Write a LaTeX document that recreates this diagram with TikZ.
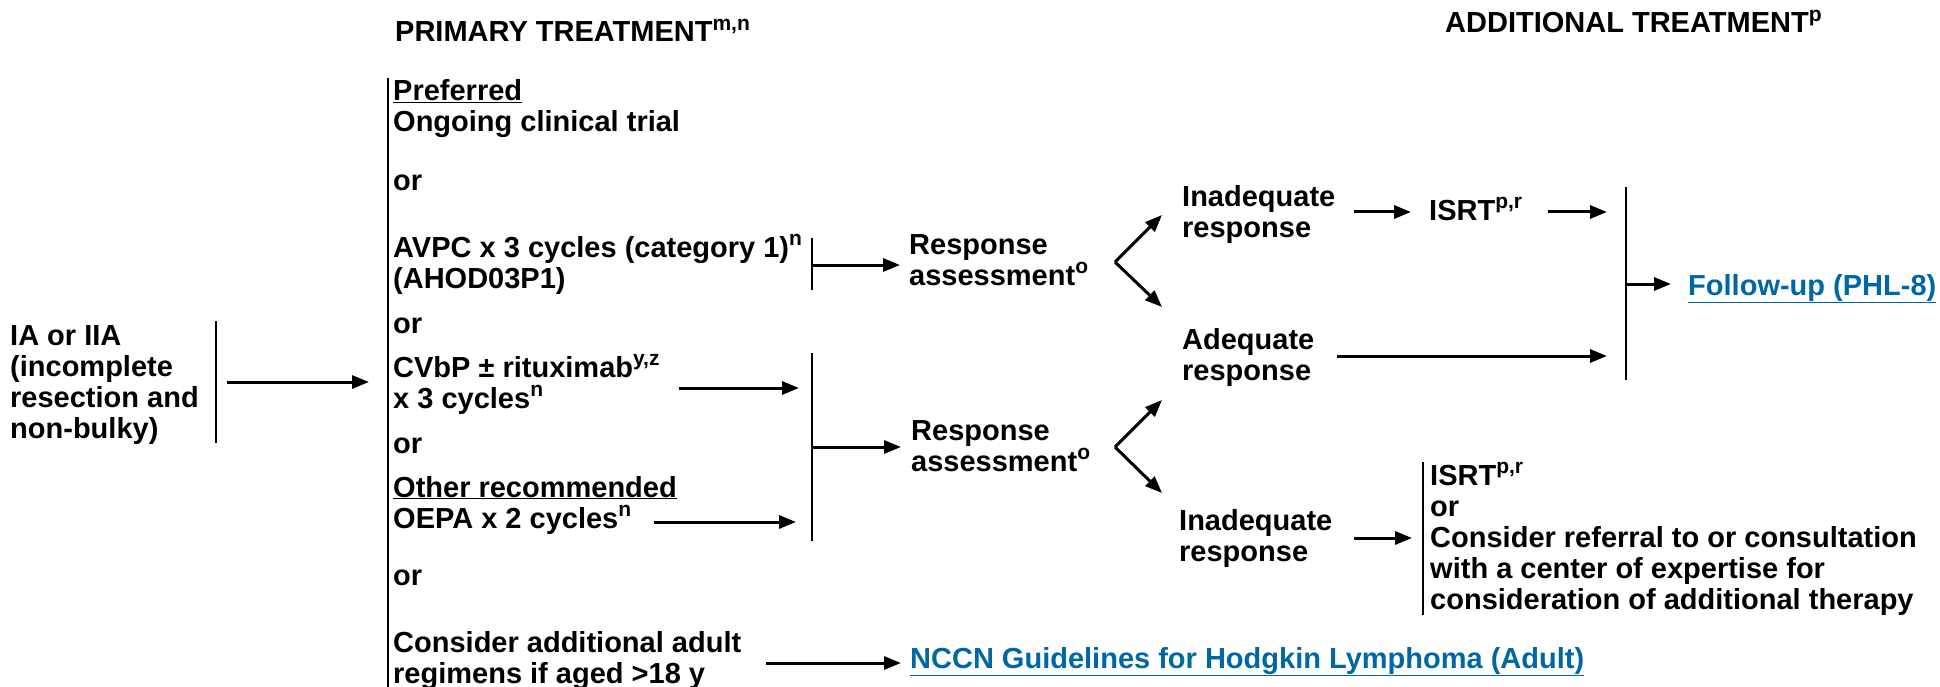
\documentclass[tikz,border=0pt]{standalone}
\usepackage{fontspec}
\setmainfont{Liberation Sans}
\usetikzlibrary{arrows.meta}
\definecolor{linkblue}{RGB}{0,103,165}
\newcommand{\sups}[1]{\raisebox{11.5pt}{\fontsize{21}{21}\selectfont #1}}
\tikzset{
  txt/.style={anchor=base west, inner sep=0pt, align=left, font=\fontsize{29}{31}\selectfont\bfseries},
  link/.style={txt, text=linkblue},
  arr/.style={line width=3pt, -{Triangle[length=17pt,width=13pt]}},
  brk/.style={line width=2pt}
}
\begin{document}
\begin{tikzpicture}[x=1pt,y=-1pt]
\useasboundingbox (0,0) rectangle (1940,687);
% headers (anchors at the baseline of the last line)
\node[txt] (primhead) at (395,42) {PRIMARY TREATMENT\sups{m,n}};
\node[txt] (addhead) at (1445,33) {ADDITIONAL TREATMENT\sups{p}};
% stage
\node[txt] (stage) at (10,438) {IA or IIA\\(incomplete\\resection and\\non-bulky)};
% primary options
\node[txt] (pref) at (393,132) {\underline{Preferred}\\Ongoing clinical trial};
\node[txt] (or1) at (393,190) {or};
\node[txt] (avpc) at (393,288) {AVPC x 3 cycles (category 1)\sups{n}\\(AHOD03P1)};
\node[txt] (or2) at (393,333) {or};
\node[txt] (cvbp) at (393,408) {CVbP ± rituximab\sups{y,z}\\x 3 cycles\sups{n}};
\node[txt] (or3) at (393,453) {or};
\node[txt] (other) at (393,528) {\underline{Other recommended}\\OEPA x 2 cycles\sups{n}};
\node[txt] (or4) at (393,585) {or};
\node[txt] (adult) at (393,683) {Consider additional adult\\regimens if aged >18 y};
% assessments
\node[txt] (resp1) at (909,285) {Response\\assessment\sups{o}};
\node[txt] (resp2) at (911,471) {Response\\assessment\sups{o}};
\node[txt] (inad1) at (1182,237) {Inadequate\\response};
\node[txt] (isrt1) at (1429,220) {ISRT\sups{p,r}};
\node[txt] (adeq) at (1182,380) {Adequate\\response};
\node[txt] (inad2) at (1179,561) {Inadequate\\response};
\node[txt] (isrt2) at (1430,609) {ISRT\sups{p,r}\\or\\Consider referral to or consultation\\with a center of expertise for\\consideration of additional therapy};
\node[link] (follow) at (1688,295) {\underline{Follow-up (PHL-8)}};
\node[link] (nccn) at (910,668) {\underline{NCCN Guidelines for Hodgkin Lymphoma (Adult)}};
% coordinates
\coordinate (sbT) at (216,321); \coordinate (sbB) at (216,443);
\coordinate (sbA) at (227,382); \coordinate (prA) at (369,382);
\coordinate (prT) at (388,78); \coordinate (prB) at (388,687);
\coordinate (avT) at (812,238); \coordinate (avB) at (812,290); \coordinate (avM) at (812,265);
\coordinate (r1in) at (900,265);
\coordinate (cvS) at (679,388); \coordinate (cvE) at (799,388);
\coordinate (oeS) at (654,522); \coordinate (oeE) at (796,522);
\coordinate (b2T) at (812,353); \coordinate (b2B) at (812,541); \coordinate (b2M) at (812,447);
\coordinate (r2in) at (901,447);
\coordinate (adS) at (766,663); \coordinate (adE) at (901,663);
\coordinate (v1) at (1115,262); \coordinate (v1u) at (1162,215); \coordinate (v1d) at (1162,307);
\coordinate (v2) at (1115,447); \coordinate (v2u) at (1162,400); \coordinate (v2d) at (1162,493);
\coordinate (i1S) at (1354,212); \coordinate (i1E) at (1411,212);
\coordinate (isS) at (1548,212); \coordinate (isE) at (1607,212);
\coordinate (aqS) at (1337,356); \coordinate (aqE) at (1607,356);
\coordinate (fbT) at (1626,187); \coordinate (fbB) at (1626,380); \coordinate (fbM) at (1626,284);
\coordinate (fuE) at (1671,284);
\coordinate (i2S) at (1354,538); \coordinate (i2E) at (1412,538);
\coordinate (ibT) at (1423,462); \coordinate (ibB) at (1423,615);
% brackets
\draw[brk] (sbT) -- (sbB);
\draw[brk] (prT) -- (prB);
\draw[brk] (avT) -- (avB);
\draw[brk] (b2T) -- (b2B);
\draw[brk] (fbT) -- (fbB);
\draw[brk] (ibT) -- (ibB);
% arrows
\draw[arr] (sbA) -- (prA);
\draw[arr] (avM) -- (r1in);
\draw[arr] (cvS) -- (cvE);
\draw[arr] (oeS) -- (oeE);
\draw[arr] (b2M) -- (r2in);
\draw[arr] (adS) -- (adE);
\draw[arr] (v1) -- (v1u);
\draw[arr] (v1) -- (v1d);
\draw[arr] (v2) -- (v2u);
\draw[arr] (v2) -- (v2d);
\draw[arr] (i1S) -- (i1E);
\draw[arr] (isS) -- (isE);
\draw[arr] (aqS) -- (aqE);
\draw[arr] (fbM) -- (fuE);
\draw[arr] (i2S) -- (i2E);
\end{tikzpicture}
\end{document}
